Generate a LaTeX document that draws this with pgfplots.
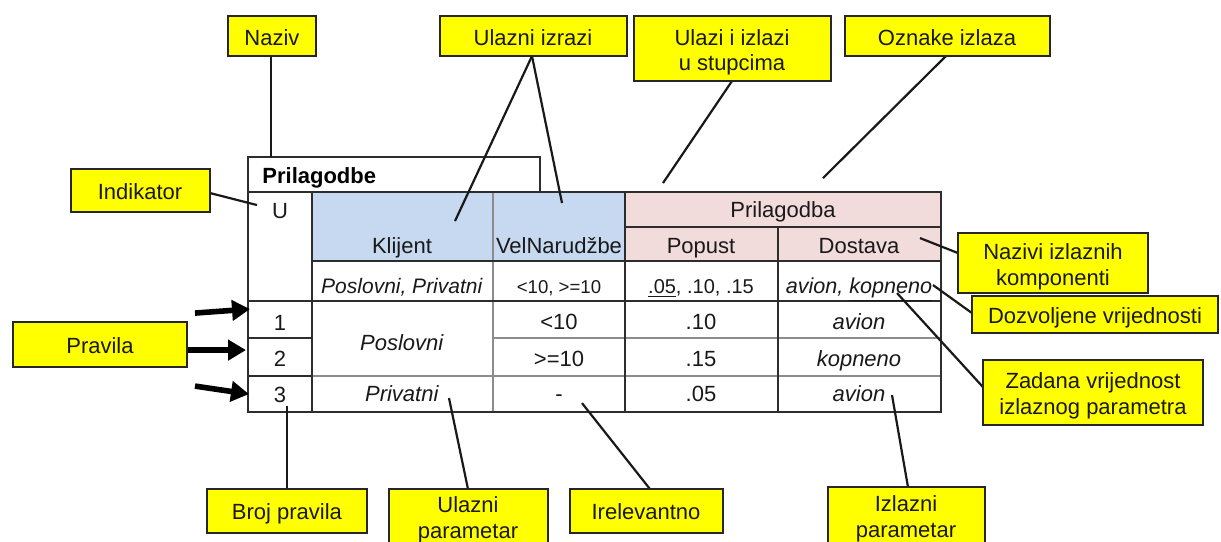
\documentclass[border=0pt]{standalone}
\usepackage{pgfplots}
\pgfplotsset{compat=1.18}
\usetikzlibrary{arrows.meta}
\usepackage{fontspec}
\setmainfont{Liberation Sans}
\definecolor{hblue}{RGB}{198,217,241}
\definecolor{hpink}{RGB}{242,220,219}
\definecolor{tdark}{RGB}{45,45,45}
\definecolor{tgray}{RGB}{140,140,140}
\definecolor{cyel}{RGB}{255,255,0}
\newcommand{\ybox}[4]{\draw[fill=cyel, draw=black!85, line width=1.25pt] (axis cs:#1,#3) rectangle (axis cs:#2,#4);}
\newcommand{\tx}[4]{\node[anchor=base, inner sep=0pt, font=\fontsize{#1}{#1}\selectfont, text=black!90] at (axis cs:#2,#3) {#4};}
\newcommand{\cn}[4]{\draw[line width=1.1pt, black!90] (axis cs:#1,#2) -- (axis cs:#3,#4);}
\newcommand{\ar}[4]{\draw[line width=2.8pt, black, -{Triangle[length=9pt,width=10pt]}] (axis cs:#1,#2) -- (axis cs:#3,#4);}
\begin{document}
\begin{tikzpicture}
\begin{axis}[width=610.5pt, height=270.5pt, scale only axis,
  xmin=0, xmax=1221, ymin=0, ymax=541, y dir=reverse,
  hide axis, clip=false]
\coordinate (BL) at (rel axis cs:0,0);
\coordinate (TR) at (rel axis cs:1,1);
% header fills
\fill[hblue] (axis cs:312,192) rectangle (axis cs:625,261);
\fill[hpink] (axis cs:625,192) rectangle (axis cs:941,261);
% title box
\draw[tdark, line width=1pt] (axis cs:248,192) -- (axis cs:248,157) -- (axis cs:540,157) -- (axis cs:540,192);
% inner lines
\draw[tgray, line width=0.6pt] (axis cs:493,192) -- (axis cs:493,412);
\draw[tdark, line width=0.6pt] (axis cs:625,227) -- (axis cs:941,227);
\draw[tdark, line width=0.6pt] (axis cs:312,261) -- (axis cs:941,261);
\draw[tdark, line width=1pt] (axis cs:248,301) -- (axis cs:941,301);
\draw[tdark, line width=0.8pt] (axis cs:248,338) -- (axis cs:312,338);
\draw[tgray, line width=0.6pt] (axis cs:493,338) -- (axis cs:941,338);
\draw[tdark, line width=0.8pt] (axis cs:248,376) -- (axis cs:312,376);
\draw[tgray, line width=0.6pt] (axis cs:312,376) -- (axis cs:941,376);
\draw[tdark, line width=1pt] (axis cs:312,192) -- (axis cs:312,412);
\draw[tdark, line width=1.3pt] (axis cs:625,192) -- (axis cs:625,412);
\draw[tdark, line width=1pt] (axis cs:778,227) -- (axis cs:778,412);
% outer border
\draw[tdark, line width=1.1pt] (axis cs:248,192) rectangle (axis cs:941,412);
% table text
\node[anchor=base west, inner sep=0pt, font=\fontsize{11}{11}\selectfont\bfseries] at (axis cs:262,183) {Prilagodbe};
\tx{11}{280}{218}{U}
\tx{11}{402}{253}{Klijent}
\tx{11}{559}{253}{VelNarudžbe}
\tx{11}{783}{217}{Prilagodba}
\tx{11}{701}{253}{Popust}
\tx{11}{859}{253}{Dostava}
\tx{10.5}{402}{293}{\textit{Poslovni, Privatni}}
\tx{9.3}{559}{293}{<10, >=10}
\tx{10}{701}{293}{\underline{.05}, .10, .15}
\tx{10.8}{859}{293}{\textit{avion, \underline{kopneno}}}
\tx{11}{280}{330}{1}
\tx{11}{280}{366}{2}
\tx{11}{280}{402}{3}
\tx{11}{402}{350}{\textit{Poslovni}}
\tx{11}{402}{401}{\textit{Privatni}}
\tx{11}{559}{329}{<10}
\tx{11}{559}{366}{>=10}
\tx{11}{559}{401}{-}
\tx{11}{701}{329}{.10}
\tx{11}{701}{366}{.15}
\tx{11}{701}{401}{.05}
\tx{11}{859}{329}{\textit{avion}}
\tx{11}{859}{366}{\textit{kopneno}}
\tx{11}{859}{401}{\textit{avion}}
% connectors
\cn{271}{56}{271}{157}
\cn{532}{56}{455}{221}
\cn{532}{56}{562}{203}
\cn{732}{81}{663}{183}
\cn{946}{56}{823}{178}
\cn{210}{193}{257}{205}
\cn{958}{253}{920}{238}
\cn{972}{313}{933}{285}
\cn{983}{387}{897}{293}
\cn{287}{489}{287}{406}
\cn{468}{489}{449}{398}
\cn{650}{489}{582}{403}
\cn{908}{487}{892}{395}
% arrows
\ar{195}{313}{250}{309}
\ar{187}{350}{246}{350}
\ar{195}{386}{249}{394}
% callout boxes
\ybox{228}{316}{16}{56}
\tx{11}{272}{45}{Naziv}
\ybox{440}{627}{16}{56}
\tx{11}{533}{45}{Ulazni izrazi}
\ybox{634}{831}{16}{81}
\tx{11}{732}{45}{Ulazi i izlazi}
\tx{11}{732}{70}{u stupcima}
\ybox{845}{1050}{16}{56}
\tx{11}{947}{45}{Oznake izlaza}
\ybox{71}{210}{169}{212}
\tx{11}{140}{199}{Indikator}
\ybox{13}{187}{322}{367}
\tx{11}{100}{353}{Pravila}
\ybox{958}{1148}{233}{293}
\tx{11}{1053}{259}{Nazivi izlaznih}
\tx{11}{1053}{285}{komponenti}
\ybox{972}{1218}{296}{333}
\tx{11}{1095}{323}{Dozvoljene vrijednosti}
\ybox{983}{1203}{360}{425}
\tx{11}{1093}{388}{Zadana vrijednost}
\tx{11}{1093}{414}{izlaznog parametra}
\ybox{207}{367}{489}{533}
\tx{11}{287}{519}{Broj pravila}
\ybox{389}{548}{489}{565}
\tx{11}{468}{512}{Ulazni}
\tx{11}{468}{538}{parametar}
\ybox{570}{723}{489}{533}
\tx{11}{646}{519}{Irelevantno}
\ybox{828}{985}{487}{565}
\tx{11}{906}{511}{Izlazni}
\tx{11}{906}{537}{parametar}
\end{axis}
\pgfresetboundingbox
\path[use as bounding box] (BL) rectangle (TR);
\end{tikzpicture}
\end{document}
